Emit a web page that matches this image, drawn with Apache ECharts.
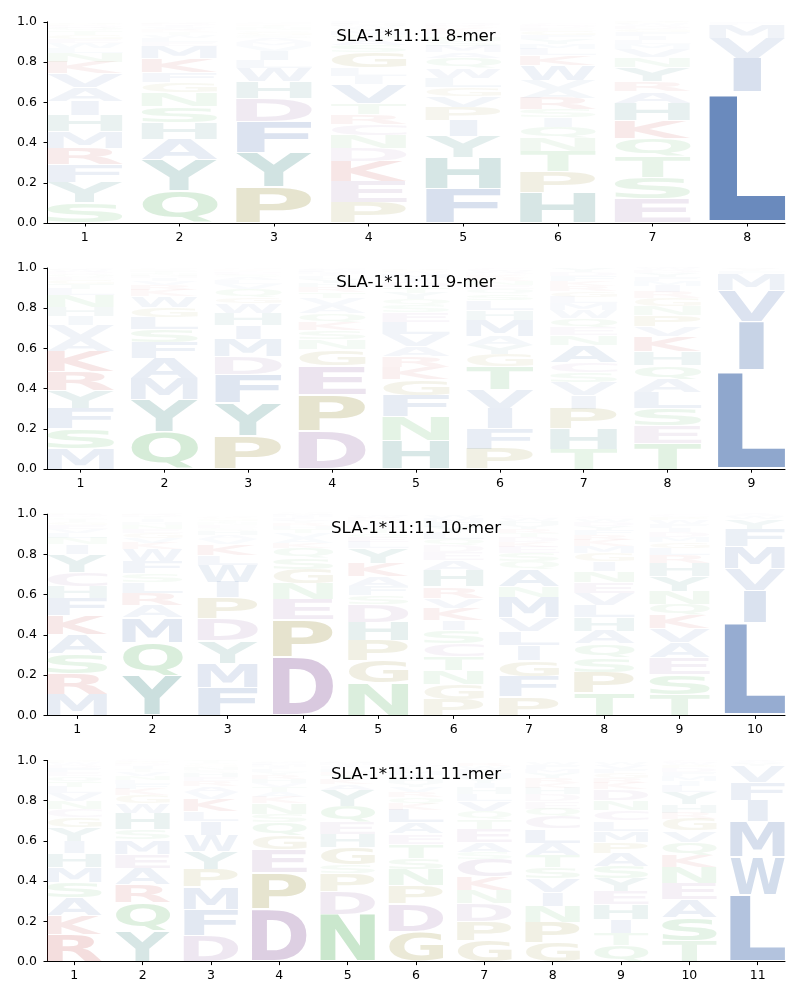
<!DOCTYPE html>
<html><head><meta charset="utf-8">
<script src="https://cdn.jsdelivr.net/npm/echarts@6/dist/echarts.min.js"></script>
<style>html,body{margin:0;padding:0;background:#fff}#c{width:800px;height:1000px}</style>
</head><body><div id="c"></div>
<script>
// ---------------- DATA (letters listed bottom -> top, heights = frequency) ----------------
const titles = ['SLA-1*11:11 8-mer', 'SLA-1*11:11 9-mer', 'SLA-1*11:11 10-mer', 'SLA-1*11:11 11-mer'];

const mer8_letters = [
  'SYFRMHIAVKNLWEGTQDPC', 'QYAHSNGFKMELWTRVIDPC', 'PYFDHWLIVMASGQNTKREC', 'PEKDNCRTVILGSAQMYWHF',
  'FHYIPVGLWQAMSNTEKRDC', 'HPTNQISRAVWKLMYFGEDC', 'ESTQKHARYNVMLIFGDWPC', 'LIVMFY'
];
const mer8_heights = [
  [.1,.1,.09,.083,.08,.08,.072,.068,.07,.058,.045,.025,.025,.02,.02,.02,.015,.01,.01,.005],
  [.16,.155,.1,.083,.08,.07,.05,.05,.07,.062,.02,.02,.015,.015,.01,.01,.01,.01,.005,.005],
  [.18,.17,.155,.115,.083,.065,.04,.045,.025,.02,.02,.015,.015,.01,.01,.01,.005,.005,.005,.005],
  [.1,.105,.1,.065,.065,.055,.05,.055,.095,.04,.04,.08,.035,.03,.02,.02,.015,.01,.01,.01],
  [.17,.155,.105,.08,.065,.055,.045,.045,.05,.05,.03,.03,.025,.02,.015,.015,.015,.01,.01,.005],
  [.15,.105,.1,.065,.058,.045,.04,.058,.045,.045,.075,.05,.03,.025,.025,.02,.02,.015,.01,.01],
  [.12,.105,.105,.09,.088,.088,.058,.048,.07,.05,.04,.025,.02,.02,.02,.015,.015,.01,.01,.005],
  [.65,.17,.1,.065,.01,.005]
];

const mer9_letters = [
  'MSFYRKAVIHNLTGEQDWPC', 'QYMAFSLGWKRVIHNTEDPC', 'PYFDMIHWGQVLASENTKRC', 'DPEGNSKQAVTRHYLIMFWC',
  'HNFGKRAVLESQYTDIMWPC', 'PFIVTGYAMHLSQENRKDWC', 'THPIVSCANEQWMLGRKFDY', 'TESLAQHKVPNGRIMFYDWC', 'LIVMFYA'
];
const mer9_heights = [
  [.1,.1,.1,.09,.095,.1,.065,.065,.045,.045,.06,.03,.025,.02,.015,.015,.01,.01,.005,.005],
  [.185,.16,.105,.1,.078,.066,.063,.05,.055,.03,.025,.02,.015,.01,.01,.01,.005,.005,.005,.005],
  [.165,.165,.14,.09,.085,.07,.06,.05,.03,.04,.025,.02,.015,.01,.01,.005,.005,.005,.005,.005],
  [.19,.18,.145,.08,.05,.045,.04,.045,.04,.035,.03,.025,.02,.02,.015,.01,.01,.01,.005,.005],
  [.14,.12,.105,.08,.06,.055,.05,.06,.06,.05,.035,.03,.03,.03,.025,.02,.02,.01,.01,.005],
  [.1,.1,.1,.095,.115,.06,.045,.045,.08,.05,.05,.03,.025,.02,.02,.015,.015,.01,.01,.01],
  [.1,.1,.1,.065,.065,.05,.05,.085,.05,.04,.045,.04,.035,.03,.03,.025,.025,.025,.02,.02],
  [.13,.085,.085,.08,.068,.068,.068,.075,.05,.055,.045,.04,.03,.03,.025,.02,.02,.015,.01,.005],
  [.49,.245,.155,.08,.015,.01,.005]
];

const mer10_letters = [
  'MRSAKFHCYINLVEGTQDWP', 'YQMARLSFWKVGENHITDPC', 'FMYDPIWLKVAHSENTGQRC', 'DPENGSQKAVTHRYLIMFWC',
  'NGPHDSFAKYLEQTVIMRWC', 'PGNTCSIKVRHAEDQLYFMW', 'PFGILVMNAQSEKDTRYHWC', 'TPSQAHLVENIGMKRFYDWC',
  'TSEAVKQNYHRLGMDIFWPC', 'LIVMFYWA'
];
const mer10_heights = [
  [.105,.1,.1,.095,.095,.088,.06,.068,.088,.05,.03,.025,.02,.02,.015,.015,.01,.01,.005,.005],
  [.195,.165,.125,.062,.062,.055,.04,.06,.06,.03,.025,.025,.02,.02,.015,.015,.01,.01,.005,.005],
  [.14,.12,.11,.11,.105,.078,.085,.05,.055,.025,.02,.02,.015,.015,.01,.01,.01,.005,.005,.005],
  [.29,.185,.1,.078,.075,.055,.05,.025,.025,.025,.02,.015,.015,.01,.01,.01,.01,.005,.005,.005],
  [.16,.11,.1,.093,.087,.045,.045,.05,.065,.075,.03,.025,.02,.02,.015,.015,.015,.01,.01,.005],
  [.08,.075,.07,.07,.065,.062,.05,.062,.05,.055,.08,.05,.04,.035,.03,.03,.03,.025,.02,.015],
  [.092,.1,.08,.075,.07,.07,.1,.052,.085,.04,.04,.03,.025,.025,.02,.02,.02,.02,.015,.01],
  [.11,.105,.072,.068,.065,.068,.06,.058,.055,.055,.05,.04,.035,.03,.025,.025,.02,.02,.015,.01],
  [.105,.1,.082,.075,.07,.065,.055,.065,.075,.065,.04,.035,.03,.025,.025,.02,.02,.02,.015,.01],
  [.46,.16,.11,.11,.085,.05,.015,.01]
];

const mer11_letters = [
  'RKASMHIYGCNVLTQEFDWP', 'YQRAEMSHWGKFLNVTIDPC', 'DFMPYWILKVAREHSNGQTC', 'DPEGQSNKATVHRYLIMFWC',
  'NDPSGHEQYAKTRLFIMWC', 'GDPNSTEALKQRVYHIMFWC', 'GPDNKCSAETQVLHIYMFWR', 'GPNIVSTALCQEDHKRYMFW',
  'QTIHEYSAPMLCNDKRGFVW', 'TSAENKQVGRHYLIMFDPWC', 'LWMIFVYAC'
];
const mer11_heights = [
  [.135,.095,.09,.075,.075,.07,.06,.065,.05,.04,.04,.04,.03,.03,.025,.02,.02,.015,.01,.01],
  [.15,.145,.09,.08,.07,.07,.05,.08,.05,.04,.03,.025,.02,.02,.02,.015,.015,.01,.01,.01],
  [.13,.13,.11,.088,.09,.08,.07,.05,.06,.035,.03,.025,.02,.02,.015,.015,.01,.01,.01,.005],
  [.26,.18,.115,.07,.068,.04,.055,.03,.025,.025,.02,.02,.02,.015,.015,.01,.01,.01,.005,.005],
  [.235,.113,.09,.045,.085,.065,.06,.08,.08,.03,.025,.02,.015,.015,.01,.01,.01,.005,.005],
  [.15,.138,.09,.082,.055,.07,.05,.055,.065,.03,.03,.025,.025,.02,.02,.02,.02,.015,.01,.01],
  [.105,.095,.09,.065,.065,.09,.035,.05,.065,.045,.04,.05,.035,.03,.025,.025,.025,.02,.015,.015],
  [.095,.1,.08,.07,.07,.055,.06,.06,.07,.06,.04,.035,.035,.03,.025,.025,.025,.02,.02,.015],
  [.08,.06,.07,.075,.065,.065,.06,.065,.055,.055,.05,.05,.05,.055,.03,.025,.025,.02,.02,.015],
  [.105,.115,.09,.08,.08,.06,.065,.055,.06,.03,.04,.06,.03,.025,.025,.02,.02,.015,.01,.01],
  [.33,.19,.175,.105,.09,.08,.015,.01,.005]
];

// ---------------- STYLE ----------------
const groupColor = {
  blue: [76, 114, 176], teal: [47, 127, 122], green: [79, 174, 88],
  olive: [149, 138, 48], purple: [153, 110, 168], red: [192, 64, 64]
};
const letterGroup = {
  A:'blue', V:'blue', L:'blue', I:'blue', M:'blue', F:'blue', W:'blue',
  Y:'teal', H:'teal', N:'green', Q:'green', S:'green', T:'green',
  P:'olive', G:'olive', D:'purple', E:'purple', C:'purple', K:'red', R:'red'
};
const FONT = 'DejaVu Sans';
const VPAD = 0.05, COLW = 0.8;

// glyph ink metrics
const cvs = document.createElement('canvas');
const ctx = cvs.getContext('2d');
ctx.font = 'bold 100px "DejaVu Sans"';
ctx.textBaseline = 'middle';
ctx.textAlign = 'left';
const metrics = {};
for (const ch of 'ACDEFGHIKLMNPQRSTVWY') {
  const m = ctx.measureText(ch);
  metrics[ch] = { l: m.actualBoundingBoxLeft, r: m.actualBoundingBoxRight, a: m.actualBoundingBoxAscent, d: m.actualBoundingBoxDescent };
}
const eW = metrics.E.l + metrics.E.r;

const panels = [
  { title: titles[0], letters: mer8_letters, heights: mer8_heights },
  { title: titles[1], letters: mer9_letters, heights: mer9_heights },
  { title: titles[2], letters: mer10_letters, heights: mer10_heights },
  { title: titles[3], letters: mer11_letters, heights: mer11_heights }
];
const tops = [21.8, 268, 514.2, 760.4];
const PH = 201.2;

const grid = [], xAxis = [], yAxis = [], series = [], title = [];
panels.forEach((p, i) => {
  const n = p.letters.length;
  const positions = Array.from({ length: n }, (_, k) => k + 1);
  grid.push({ left: 47, width: 738, top: tops[i], height: PH, containLabel: false });
  xAxis.push({
    gridIndex: i, type: 'value', min: 0.6, max: n + 0.4,
    axisLine: { show: true, onZero: false, lineStyle: { color: '#000', width: 1 } },
    axisTick: { show: true, length: 3.5, customValues: positions, lineStyle: { color: '#000' } },
    axisLabel: { show: true, customValues: positions, color: '#000', fontSize: 12.5, fontFamily: FONT, margin: 8 },
    splitLine: { show: false }
  });
  yAxis.push({
    gridIndex: i, type: 'value', min: 0, max: 1, interval: 0.2,
    axisLine: { show: true, lineStyle: { color: '#000', width: 1 } },
    axisTick: { show: true, length: 3.5, lineStyle: { color: '#000' } },
    axisLabel: { color: '#000', fontSize: 12.5, fontFamily: FONT, margin: 10, formatter: v => v.toFixed(1) },
    splitLine: { show: false }
  });
  title.push({
    text: p.title, left: 416, top: tops[i] + 6, textAlign: 'center', padding: 0,
    textStyle: { fontSize: 16.67, fontWeight: 'normal', fontFamily: FONT, color: '#000' }
  });
  const items = [];
  p.letters.forEach((str, k) => {
    let y = 0;
    for (let j = 0; j < str.length; j++) {
      const h = p.heights[k][j];
      items.push({ x: k + 1, y0: y, y1: y + h, h: h, ch: str[j] });
      y += h;
    }
  });
  series.push({
    type: 'custom', xAxisIndex: i, yAxisIndex: i, silent: true, animation: false, clip: false,
    data: items.map(it => [it.x, it.y0, it.y1]),
    renderItem: function (params, api) {
      const it = items[params.dataIndex];
      const pad = it.h * VPAD / 2;
      const p0 = api.coord([it.x - COLW / 2, it.y0 + pad]);
      const p1 = api.coord([it.x + COLW / 2, it.y1 - pad]);
      const bw = p1[0] - p0[0], bh = p0[1] - p1[1];
      const m = metrics[it.ch];
      const inkW = m.l + m.r, inkH = m.a + m.d;
      const sx = Math.min(bw / inkW, bw / eW);
      const sy = bh / inkH;
      const inkLeft = p0[0] + (bw - inkW * sx) / 2;
      const c = groupColor[letterGroup[it.ch]];
      const alpha = Math.min(1, 1.28 * it.h);
      return {
        type: 'text', x: inkLeft + sx * m.l, y: p1[1] + sy * m.a, scaleX: sx, scaleY: sy,
        style: {
          text: it.ch, fontSize: 100, fontFamily: FONT, fontWeight: 'bold',
          fill: 'rgba(' + c[0] + ',' + c[1] + ',' + c[2] + ',' + alpha.toFixed(3) + ')',
          align: 'left', verticalAlign: 'middle'
        }
      };
    }
  });
});

const chart = echarts.init(document.getElementById('c'), null, { renderer: 'canvas' });
chart.setOption({ animation: false, backgroundColor: '#fff', title, grid, xAxis, yAxis, series });
</script>
</body></html>
